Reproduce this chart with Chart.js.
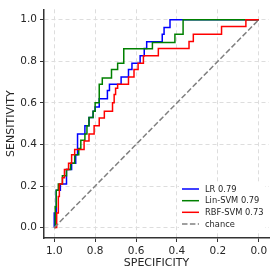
<!DOCTYPE html>
<html><head><meta charset="utf-8">
<script src="https://cdn.jsdelivr.net/npm/chart.js@4/dist/chart.umd.min.js"></script>
<style>html,body{margin:0;padding:0;background:#fff;}canvas{display:block;}</style>
</head><body>
<canvas id="c" width="277" height="276"></canvas>
<script>
const seriesLabels = ["LR 0.79", "Lin-SVM 0.79", "RBF-SVM 0.73", "chance"];
const tickValues = [0, 0.2, 0.4, 0.6, 0.8, 1.0];

const lrSpec = [1,1,0.99,0.99,0.97,0.97,0.94,0.94,0.915,0.915,0.895,0.895,0.886,0.886,0.85,0.85,0.83,0.83,0.81,0.81,0.8,0.8,0.78,0.78,0.74,0.74,0.73,0.73,0.673,0.673,0.637,0.637,0.62,0.62,0.58,0.58,0.56,0.56,0.548,0.548,0.472,0.472,0.463,0.463,0.434,0.434,0];
const lrSens = [0,0.07,0.07,0.18,0.18,0.21,0.21,0.28,0.28,0.31,0.31,0.35,0.35,0.45,0.45,0.49,0.49,0.53,0.53,0.56,0.56,0.58,0.58,0.62,0.62,0.66,0.66,0.69,0.69,0.724,0.724,0.76,0.76,0.79,0.79,0.827,0.827,0.862,0.862,0.894,0.894,0.93,0.93,0.962,0.962,1,1];

const linSpec = [1,0.995,0.995,0.99,0.99,0.98,0.98,0.96,0.96,0.94,0.94,0.92,0.92,0.9,0.9,0.88,0.88,0.87,0.87,0.85,0.85,0.84,0.84,0.83,0.83,0.81,0.81,0.8,0.8,0.78,0.78,0.765,0.765,0.72,0.72,0.69,0.69,0.66,0.66,0.52,0.52,0.41,0.41,0.37,0.37,0];
const linSens = [0,0,0.1,0.1,0.18,0.18,0.21,0.21,0.25,0.25,0.28,0.28,0.31,0.31,0.35,0.35,0.38,0.38,0.42,0.42,0.45,0.45,0.49,0.49,0.53,0.53,0.56,0.56,0.6,0.6,0.69,0.69,0.72,0.72,0.76,0.76,0.79,0.79,0.86,0.86,0.89,0.89,0.93,0.93,1,1];

const rbfSpec = [1,0.988,0.988,0.98,0.98,0.975,0.975,0.96,0.96,0.95,0.95,0.93,0.93,0.915,0.915,0.9,0.9,0.854,0.854,0.83,0.83,0.805,0.805,0.78,0.78,0.755,0.755,0.715,0.715,0.707,0.707,0.7,0.7,0.69,0.69,0.637,0.637,0.61,0.61,0.59,0.59,0.564,0.564,0.491,0.491,0.341,0.341,0.32,0.32,0.182,0.182,0.063,0.063,0];
const rbfSens = [0,0,0.07,0.07,0.15,0.15,0.21,0.21,0.24,0.24,0.28,0.28,0.31,0.31,0.35,0.35,0.376,0.376,0.416,0.416,0.45,0.45,0.49,0.49,0.527,0.527,0.56,0.56,0.6,0.6,0.64,0.64,0.67,0.67,0.69,0.69,0.724,0.724,0.76,0.76,0.79,0.79,0.827,0.827,0.862,0.862,0.895,0.895,0.93,0.93,0.967,0.967,1,1];

const chanceSpec = [1, 0];
const chanceSens = [0, 1];

function pts(xs, ys){ return xs.map((x,i)=>({x:x, y:ys[i]})); }

const FONT = "'DejaVu Sans', sans-serif";
const TXT = '#262626';

const legendPlugin = {
  id: 'innerLegend',
  afterDatasetsDraw(chart){
    const ctx = chart.ctx;
    const ds = chart.data.datasets;
    ctx.save();
    ctx.fillStyle = '#ffffff';
    ctx.fillRect(179, 183, 86, 47);
    ctx.font = "8.3px " + FONT;
    ctx.textBaseline = 'middle';
    ctx.textAlign = 'left';
    const ys = [189, 200.7, 212.3, 224];
    ds.forEach((d, i) => {
      const y = ys[i];
      ctx.strokeStyle = d.borderColor;
      ctx.lineWidth = d.borderWidth;
      ctx.setLineDash(d.borderDash || []);
      ctx.beginPath(); ctx.moveTo(182, y); ctx.lineTo(199, y); ctx.stroke();
      ctx.setLineDash([]);
      ctx.fillStyle = TXT;
      ctx.fillText(d.label, 205, y + 0.5);
    });
    ctx.restore();
  }
};

new Chart(document.getElementById('c'), {
  type: 'scatter',
  data: {
    datasets: [
      {label: seriesLabels[0], data: pts(lrSpec, lrSens), borderColor: '#0000ff', order: 4},
      {label: seriesLabels[1], data: pts(linSpec, linSens), borderColor: '#008000', order: 3},
      {label: seriesLabels[2], data: pts(rbfSpec, rbfSens), borderColor: '#ff0000', order: 2},
      {label: seriesLabels[3], data: pts(chanceSpec, chanceSens), borderColor: '#808080', borderDash: [5.5, 2.4], order: 1}
    ].map(d => Object.assign({showLine: true, pointRadius: 0, borderWidth: 1.5, fill: false, tension: 0}, d))
  },
  options: {
    responsive: false,
    animation: false,
    devicePixelRatio: 1,
    layout: {padding: {top: 6, right: 8, left: 0, bottom: 0}},
    plugins: {legend: {display: false}, tooltip: {enabled: false}},
    scales: {
      x: {
        type: 'linear', reverse: true, min: -0.05, max: 1.05,
        afterBuildTicks: s => { s.ticks = tickValues.map(v => ({value: v})); },
        afterFit: s => { s.height = 38; },
        ticks: {callback: v => v.toFixed(1), color: TXT, font: {family: FONT, size: 10.5}, padding: 3, maxRotation: 0},
        grid: {color: '#dddddd', lineWidth: 1, drawTicks: true, tickLength: 4, tickColor: '#333333', tickWidth: 1},
        border: {display: true, color: '#333333', width: 1.5, dash: [4, 3]},
        title: {display: true, text: 'SPECIFICITY', color: TXT, font: {family: FONT, size: 11}, padding: {top: 0, bottom: 6}}
      },
      y: {
        type: 'linear', min: -0.05, max: 1.05,
        afterBuildTicks: s => { s.ticks = tickValues.map(v => ({value: v})); },
        afterFit: s => { s.width = 44; },
        ticks: {callback: v => v.toFixed(1), color: TXT, font: {family: FONT, size: 10.5}, padding: 3},
        grid: {color: '#dddddd', lineWidth: 1, drawTicks: true, tickLength: 4, tickColor: '#333333', tickWidth: 1},
        border: {display: true, color: '#333333', width: 1.5, dash: [4, 3]},
        title: {display: true, text: 'SENSITIVITY', color: TXT, font: {family: FONT, size: 11}, padding: {top: 5, bottom: 0}}
      }
    }
  },
  plugins: [legendPlugin]
});
</script>
</body></html>
